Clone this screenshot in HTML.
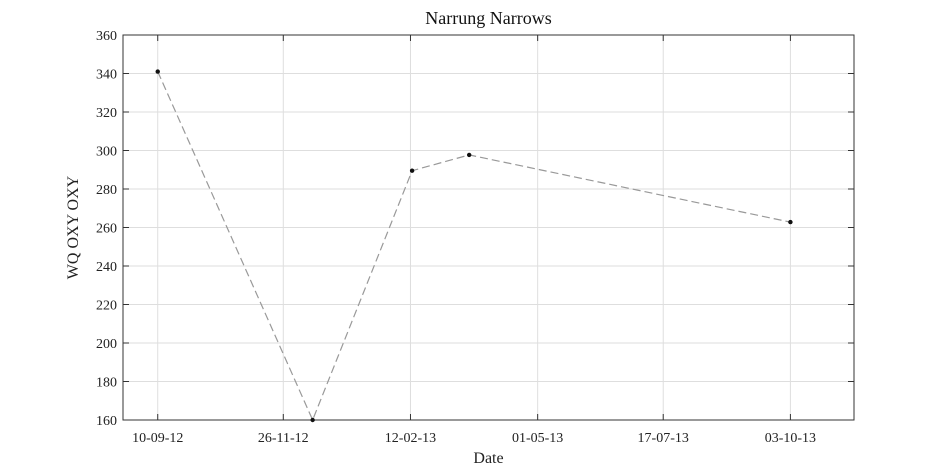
<!DOCTYPE html>
<html><head><meta charset="utf-8"><style>
html,body{margin:0;padding:0;background:#fff;}
svg{display:block;font-family:"Liberation Serif",serif;}
</style></head><body>
<svg id="chart" width="945" height="472"></svg>
<script>
const dates=["2012-09-10","2012-12-14","2013-02-13","2013-03-20","2013-10-03"];
const values=[341,160,289.5,297.7,262.8];
const xTickDates=["2012-09-10","2012-11-26","2013-02-12","2013-05-01","2013-07-17","2013-10-03"];
const xTickLabels=["10-09-12","26-11-12","12-02-13","01-05-13","17-07-13","03-10-13"];
const yTicks=[160,180,200,220,240,260,280,300,320,340,360];

const NS="http://www.w3.org/2000/svg";
const svg=document.getElementById('chart');
const L=123,R=854,T=35,B=420;
const day=86400000;
const d0=Date.parse("2012-09-10")-21.3*day, d1=Date.parse("2013-10-03")+39*day;
function xs(d){return L+(Date.parse(d)-d0)/(d1-d0)*(R-L);}
function ys(v){return B-(v-160)/(360-160)*(B-T);}
function mk(tag,attrs,parent){const e=document.createElementNS(NS,tag);for(const k in attrs)e.setAttribute(k,attrs[k]);(parent||svg).appendChild(e);return e;}

const grid=mk('g',{});


yTicks.forEach(v=>{const y=ys(v);
 mk('line',{x1:L,x2:R,y1:y,y2:y,stroke:'#dedede','stroke-width':1},grid);
 mk('line',{x1:L,x2:L+6,y1:y,y2:y,stroke:'#333'},grid);
 mk('line',{x1:R-6,x2:R,y1:y,y2:y,stroke:'#333'},grid);
 const t=mk('text',{x:L-6,y:y+5,'text-anchor':'end','font-size':14,fill:'#222'});
 t.textContent=v;
 
 
});
xTickDates.forEach((d,i)=>{const x=xs(d);
 mk('line',{x1:x,x2:x,y1:T,y2:B,stroke:'#dedede','stroke-width':1},grid);
 mk('line',{x1:x,x2:x,y1:B-6,y2:B,stroke:'#333'},grid);
 mk('line',{x1:x,x2:x,y1:T,y2:T+6,stroke:'#333'},grid);
 const t=mk('text',{x:x,y:B+22,'text-anchor':'middle','font-size':14,fill:'#222'});
 t.textContent=xTickLabels[i];
 
 
});
const box=mk('rect',{x:L,y:T,width:R-L,height:B-T,fill:'none',stroke:'#333','stroke-width':1});



const pts=dates.map((d,i)=>xs(d)+','+ys(values[i])).join(' ');
const line=mk('polyline',{points:pts,fill:'none',stroke:'#999','stroke-width':1.2,'stroke-dasharray':'8,4'});


dates.forEach((d,i)=>{const c=mk('circle',{cx:xs(d),cy:ys(values[i]),r:2.2,fill:'#111'});
 
 
});

const title=mk('text',{x:(L+R)/2,y:24,'text-anchor':'middle','font-size':18,fill:'#111'});
title.textContent='Narrung Narrows';


const xl=mk('text',{x:(L+R)/2,y:463,'text-anchor':'middle','font-size':16,fill:'#222'});
xl.textContent='Date';


const yl=mk('text',{x:0,y:0,'text-anchor':'middle','font-size':16,fill:'#222',transform:'translate(78,'+((T+B)/2)+') rotate(-90)'});
yl.textContent='WQ OXY OXY';


</script>
</body></html>
